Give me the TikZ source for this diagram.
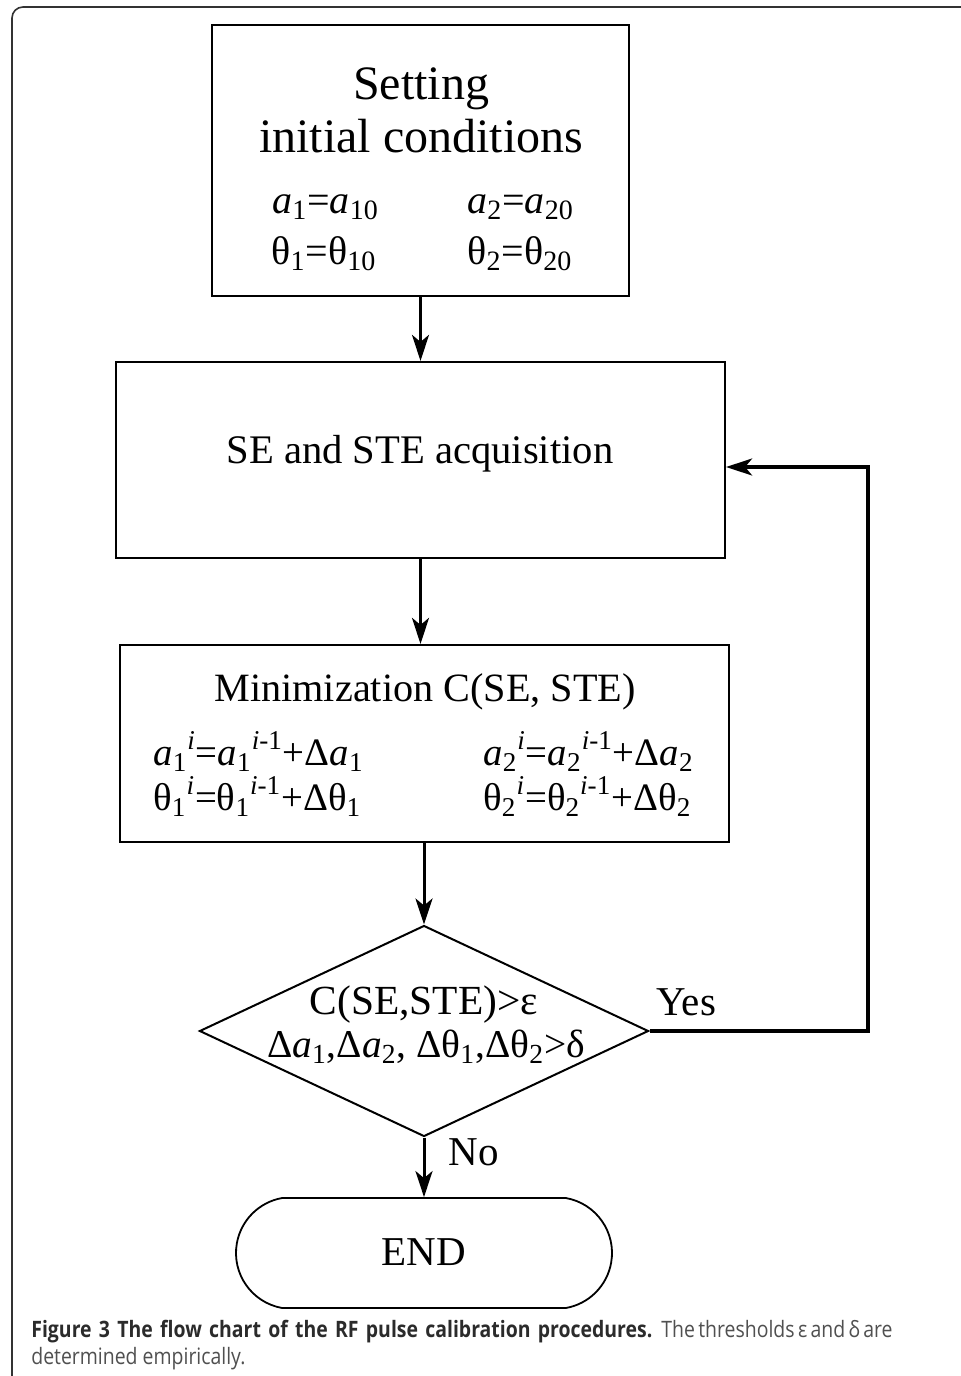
\documentclass[tikz,border=0pt]{standalone}
\usepackage{fontspec}
\setmainfont{Liberation Serif}
\newfontfamily\capfont[FakeStretch=0.86]{Open Sans}
\usetikzlibrary{shapes.geometric,shapes.misc,arrows.meta,calc}
\definecolor{framegray}{HTML}{333333}
\definecolor{capbold}{HTML}{2B2B2B}
\definecolor{capreg}{HTML}{505050}
\begin{document}
\begin{tikzpicture}[x=0.5pt,y=-0.5pt,
  box/.style={draw=black, line width=1.1pt, rectangle, inner sep=0pt},
  arr/.style={line width=1.5pt, -{Stealth[length=13pt,width=8.5pt,inset=3.5pt]}},
  txt/.style={inner sep=0pt, font=\fontsize{20.5pt}{25pt}\selectfont},
  frm/.style={inner sep=0pt, font=\fontsize{19.4pt}{24pt}\selectfont},
  title/.style={inner sep=0pt, font=\fontsize{24pt}{28pt}\selectfont},
  captext/.style={inner sep=0pt, font=\capfont\fontsize{11.3pt}{13pt}\selectfont}]
\useasboundingbox (0,0) rectangle (960,1376);
\fill[white] (0,0) rectangle (960,1376);
\draw[framegray, line width=0.8pt, rounded corners=5.5pt] (12,1400) -- (12,7) -- (990,7);

% shapes
\node[box, minimum width=208.5pt, minimum height=135.5pt] (init) at (420.5,160.5) {};
\node[box, minimum width=304.5pt, minimum height=98pt] (acq) at (420.5,460) {};
\node[box, minimum width=304.5pt, minimum height=98.5pt] (mini) at (424.5,743.5) {};
\node[diamond, draw, line width=1pt, minimum width=224.5pt, minimum height=105.5pt,
      inner sep=0pt, aspect=2.13] (dec) at (424,1031) {};
\node[rounded rectangle, draw, line width=0.9pt, minimum width=188pt, minimum height=55pt,
      rounded rectangle arc length=160, inner sep=0pt] (endn) at (424,1253) {};

% texts
\node[title, anchor=base] (t1) at (421,99) {Setting};
\node[title, anchor=base] (t2) at (421,152) {initial conditions};
\node[txt, font=\fontsize{20pt}{24pt}\selectfont, anchor=base west] (f1) at (272,213) {\textit{a}\textsubscript{1}=\textit{a}\textsubscript{10}};
\node[txt, font=\fontsize{20pt}{24pt}\selectfont, anchor=base west] (f2) at (467,213) {\textit{a}\textsubscript{2}=\textit{a}\textsubscript{20}};
\node[txt, font=\fontsize{20pt}{24pt}\selectfont, anchor=base west] (f3) at (271,264) {θ\textsubscript{1}=θ\textsubscript{10}};
\node[txt, font=\fontsize{20pt}{24pt}\selectfont, anchor=base west] (f4) at (467,264) {θ\textsubscript{2}=θ\textsubscript{20}};

\node[txt, font=\fontsize{20.3pt}{24pt}\selectfont, anchor=base] (t3) at (420,463) {SE and STE acquisition};

\node[txt, font=\fontsize{20.1pt}{24pt}\selectfont, anchor=base] (t4) at (425,701) {Minimization C(SE, STE)};
\node[frm, anchor=base west] (g1) at (153,765) {\textit{a}\textsubscript{1}\textsuperscript{\textit{i}}=\textit{a}\textsubscript{1}\textsuperscript{\textit{i}-1}+Δ\textit{a}\textsubscript{1}};
\node[frm, anchor=base west] (g2) at (483,765) {\textit{a}\textsubscript{2}\textsuperscript{\textit{i}}=\textit{a}\textsubscript{2}\textsuperscript{\textit{i}-1}+Δ\textit{a}\textsubscript{2}};
\node[frm, anchor=base west] (g3) at (153,810) {θ\textsubscript{1}\textsuperscript{\textit{i}}=θ\textsubscript{1}\textsuperscript{\textit{i}-1}+Δθ\textsubscript{1}};
\node[frm, anchor=base west] (g4) at (483,810) {θ\textsubscript{2}\textsuperscript{\textit{i}}=θ\textsubscript{2}\textsuperscript{\textit{i}-1}+Δθ\textsubscript{2}};

\node[txt, font=\fontsize{20.7pt}{24pt}\selectfont, anchor=base] (d1) at (424,1014) {C(SE,STE)>ε};
\node[txt, font=\fontsize{19.7pt}{24pt}\selectfont, anchor=base] (d2) at (426,1057) {Δ\textit{a}\textsubscript{1},Δ\textit{a}\textsubscript{2}, Δθ\textsubscript{1},Δθ\textsubscript{2}>δ};
\node[txt, anchor=base west] (yes) at (656,1015) {Yes};
\node[txt, anchor=base west] (no) at (448,1165) {No};
\node[txt, anchor=base] (endt) at (424,1265) {END};

% connectors
\draw[arr] (init.south) -- (acq.north);
\draw[arr] (acq.south) -- (acq.south |- mini.north);
\draw[arr] (dec.north |- mini.south) -- (dec.north);
\draw[arr] (dec.south) -- (endn.north);
\coordinate (turn) at (868,467);
\draw[arr, line width=1.7pt] (dec.east) -| (turn) -- (turn -| acq.east);

% caption
\node[captext, anchor=base west, text=capbold] (c1) at (31,1337) {\hbox to 310.5pt{\bfseries Figure 3 The flow chart of the RF pulse calibration procedures.}};
\node[captext, anchor=base west, text=capreg] (c1b) at (661,1337) {\hbox to 115pt{The thresholds ε and δ are}};
\node[captext, anchor=base west, text=capreg] (c2) at (31,1364) {determined empirically.};
\end{tikzpicture}
\end{document}
